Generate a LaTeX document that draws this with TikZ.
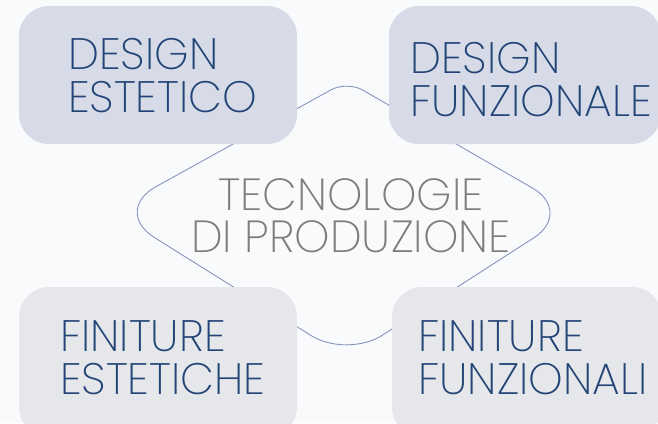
\documentclass[tikz,border=0pt]{standalone}
\usepackage{fontspec}
\newfontfamily\thinsans{Poppins ExtraLight}
\usetikzlibrary{calc}
\definecolor{navy}{RGB}{34,68,118}
\definecolor{topfill}{RGB}{214,219,231}
\definecolor{botfill}{RGB}{229,231,234}
\definecolor{ringline}{RGB}{133,149,189}
\definecolor{midtext}{RGB}{125,125,125}
\definecolor{paper}{RGB}{249,250,251}
\tikzset{
  panel/.style={rounded corners=30pt, minimum width=278pt, minimum height=138pt, inner sep=0pt},
  panelup/.style={panel, fill=topfill},
  paneldown/.style={panel, fill=botfill, minimum height=150pt},
  paneltext/.style={font=\thinsans\fontsize{44}{43}\selectfont, text=navy, align=left, inner sep=0pt, anchor=west},
  ring/.style={ringline, line width=0.9pt},
}

\begin{document}
\begin{tikzpicture}[x=1pt,y=-1pt]
  \clip (0,0) rectangle (658,423);
  \fill[paper] (0,0) rectangle (658,423);
  \coordinate (top) at (347,81);
  \coordinate (lft) at (112,211);
  \coordinate (rgt) at (574,212);
  \coordinate (bot) at (347,358);
  \draw[ring] ($(bot)!.5!(lft)$) [rounded corners=50pt] -- (lft) -- ($(lft)!.5!(top)$)
    [rounded corners=18pt] -- (top) -- ($(top)!.5!(rgt)$)
    [rounded corners=48pt] -- (rgt) -- ($(rgt)!.5!(bot)$)
    [rounded corners=42pt] -- (bot) -- cycle;
  \node[panelup] (estbox) at (158,75) {};
  \node[panelup, minimum width=272pt] (funbox) at (525,75) {};
  \node[paneldown] (finestbox) at (158,362) {};
  \node[paneldown, minimum width=270pt] (finfunbox) at (527,362) {};
  \node[paneltext] (esttxt) at (68,76) {DESIGN\\ESTETICO};
  \node[paneltext] (funtxt) at (410,80) {DESIGN\\FUNZIONALE};
  \node[paneltext] (finesttxt) at (60,358) {FINITURE\\ESTETICHE};
  \node[paneltext] (finfuntxt) at (418,358) {FINITURE\\FUNZIONALI};
  \node[font=\thinsans\fontsize{45}{42}\selectfont, text=midtext, align=center, inner sep=0pt] (tech) at (351,216) {TECNOLOGIE\\DI PRODUZIONE};
\end{tikzpicture}
\end{document}
